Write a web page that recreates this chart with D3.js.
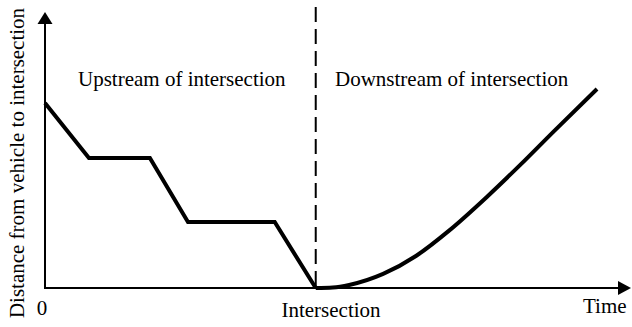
<!DOCTYPE html>
<html>
<head>
<meta charset="utf-8">
<script src="https://cdn.jsdelivr.net/npm/d3@7"></script>
<style>
  html, body { margin: 0; padding: 0; background: #fff; }
</style>
</head>
<body>
<div id="chart"></div>
<script>
// time (0-100) and distance (0-100)
var upTime = [0, 7.5, 17.9, 24.4, 39.2, 46.2];
var upDist = [67.0, 47.1, 47.1, 23.9, 23.9, 0];
var downTime = [46.2, 49.1, 51.9, 57.7, 63.3, 68.9, 75.4, 81.1, 86.7, 94.2];
var downDist = [0, 0.2, 1.1, 5.1, 11.6, 20.7, 33.0, 44.6, 56.5, 72.1];
var intersectionTime = 46.2;
var regionLabels = ["Upstream of intersection", "Downstream of intersection"];

var W = 632, H = 327;
var margin = {top: 12, right: 1, bottom: 39, left: 45};
var serif = "Liberation Serif";

var x = d3.scaleLinear().domain([0, 100]).range([margin.left, W - margin.right]);
var y = d3.scaleLinear().domain([0, 100]).range([H - margin.bottom, margin.top]);

var svg = d3.select("#chart").append("svg")
    .attr("width", W)
    .attr("height", H);

svg.append("rect").attr("width", W).attr("height", H).attr("fill", "#fff");

var x0 = x(0), y0 = y(0);

// axes with arrow heads
svg.append("line")
    .attr("x1", x0).attr("y1", y0)
    .attr("x2", x0).attr("y2", y(100) + 10)
    .attr("stroke", "#000").attr("stroke-width", 2);
svg.append("path")
    .attr("d", "M" + x0 + "," + y(100) + "L" + (x0 - 7.5) + "," + (y(100) + 12) + "L" + (x0 + 7.5) + "," + (y(100) + 12) + "Z")
    .attr("fill", "#000");

svg.append("line")
    .attr("x1", x0 - 1).attr("y1", y0)
    .attr("x2", x(100) - 10).attr("y2", y0)
    .attr("stroke", "#000").attr("stroke-width", 2);
svg.append("path")
    .attr("d", "M" + x(100) + "," + y0 + "L" + (x(100) - 13) + "," + (y0 - 7) + "L" + (x(100) - 13) + "," + (y0 + 7) + "Z")
    .attr("fill", "#000");

// dashed intersection line
svg.append("line")
    .attr("x1", x(intersectionTime)).attr("y1", 7)
    .attr("x2", x(intersectionTime)).attr("y2", y0)
    .attr("stroke", "#000").attr("stroke-width", 2)
    .attr("stroke-dasharray", "15,7");

// trajectory
var upLine = d3.line()
    .x(function(d, i) { return x(upTime[i]); })
    .y(function(d) { return y(d); });
var downLine = d3.line()
    .x(function(d, i) { return x(downTime[i]); })
    .y(function(d) { return y(d); })
    .curve(d3.curveMonotoneX);

svg.append("path")
    .attr("d", upLine(upDist))
    .attr("fill", "none").attr("stroke", "#000")
    .attr("stroke-width", 4).attr("stroke-linejoin", "miter");
svg.append("path")
    .attr("d", downLine(downDist))
    .attr("fill", "none").attr("stroke", "#000")
    .attr("stroke-width", 4);

// labels
function label(px, py, s, anchor) {
  return svg.append("text")
      .attr("x", px).attr("y", py)
      .attr("font-family", serif)
      .attr("font-size", 21)
      .attr("fill", "#000")
      .attr("text-anchor", anchor || "start")
      .text(s);
}
label(78, 86, regionLabels[0]);
label(335, 86, regionLabels[1]);
label(x0 - 3, 315, "0", "middle");
label(331, 317, "Intersection", "middle");
label(583, 313, "Time");
label(0, 0, "Distance from vehicle to intersection", "middle")
    .attr("transform", "translate(24,163) rotate(-90)");
</script>
</body>
</html>
